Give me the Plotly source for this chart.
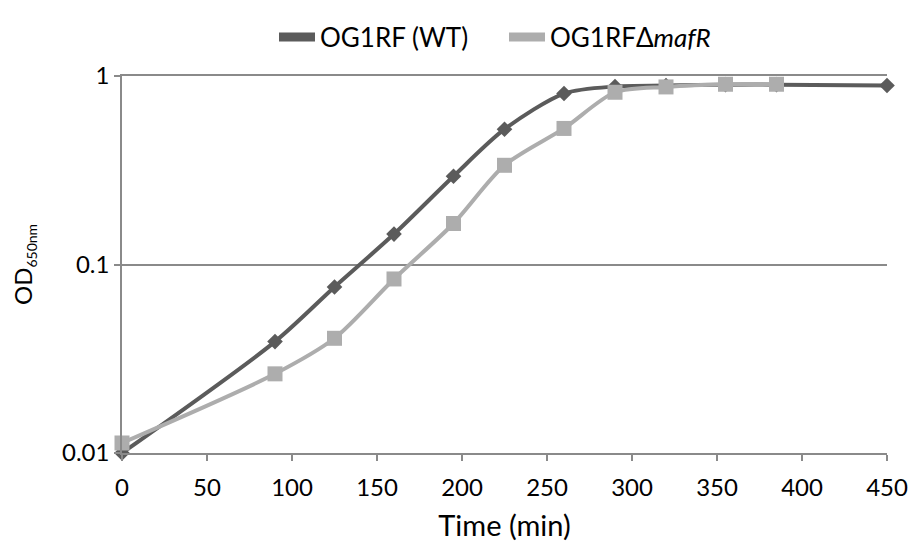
import plotly.graph_objects as go

time_wt = [0, 90, 125, 160, 195, 225, 260, 290, 320, 355, 385, 450]
od_wt = [0.010, 0.039, 0.076, 0.145, 0.294, 0.522, 0.807, 0.88, 0.89, 0.90, 0.90, 0.89]

time_mut = [0, 90, 125, 160, 195, 225, 260, 290, 320, 355, 385]
od_mut = [0.0113, 0.0263, 0.0406, 0.0838, 0.165, 0.336, 0.527, 0.82, 0.875, 0.904, 0.904]

x_ticks = [0, 50, 100, 150, 200, 250, 300, 350, 400, 450]
y_ticks = [0.01, 0.1, 1]
y_tick_labels = ["0.01", "0.1", "1"]

name_wt = "OG1RF (WT)"
name_mut = "OG1RFΔ<i>mafR</i>"

c_wt = "#5b5b5b"
c_mut = "#adadad"
axis_c = "#8a8a8a"
FONT = "Lato"

W, H = 911, 534  # page body has an 8px margin

fig = go.Figure()
fig.add_trace(go.Scatter(
    x=time_wt, y=od_wt, mode="lines+markers", showlegend=False,
    line=dict(color=c_wt, width=4, shape="spline", smoothing=0.8),
    marker=dict(symbol="diamond", size=12, color=c_wt),
    cliponaxis=False,
))
fig.add_trace(go.Scatter(
    x=time_mut, y=od_mut, mode="lines+markers", showlegend=False,
    line=dict(color=c_mut, width=4, shape="spline", smoothing=0.8),
    marker=dict(symbol="square", size=15, color=c_mut),
    cliponaxis=False,
))
# legend entries (rectangular swatches like the original)
fig.add_trace(go.Scatter(x=[None], y=[None], mode="lines", name=name_wt,
                         line=dict(color=c_wt, width=9)))
fig.add_trace(go.Scatter(x=[None], y=[None], mode="lines", name=name_mut,
                         line=dict(color=c_mut, width=9)))

fig.update_layout(
    width=W, height=H,
    margin=dict(l=114, r=32, t=68, b=89, autoexpand=False),
    plot_bgcolor="white", paper_bgcolor="white",
    font=dict(family=FONT, size=24, color="black"),
    showlegend=True,
    legend=dict(orientation="h", xref="container", x=266 / W, xanchor="left",
                yref="container", y=1 - 29 / H, yanchor="middle",
                font=dict(size=26, family=FONT), itemwidth=36,
                entrywidth=179, entrywidthmode="pixels"),
    xaxis=dict(
        range=[0, 450], tickvals=x_ticks, showgrid=False, zeroline=False,
        showline=True, linecolor=axis_c, linewidth=1.5, mirror=True,
        ticks="outside", ticklen=6, tickcolor=axis_c, tickwidth=1.5,
        ticklabelstandoff=6,
        tickfont=dict(size=24, family=FONT),
        title=dict(text="Time (min)", font=dict(size=29, family=FONT), standoff=23),
    ),
    yaxis=dict(
        type="log", range=[-2, 0], tickvals=y_ticks, ticktext=y_tick_labels,
        showgrid=True, gridcolor=axis_c, gridwidth=1.5, zeroline=False,
        showline=True, linecolor=axis_c, linewidth=1.5,
        ticks="outside", ticklen=6, tickcolor=axis_c, tickwidth=1.5,
        tickfont=dict(size=24, family=FONT),
        title=dict(text="OD<sub><span style='font-size:14px'>650nm</span></sub>",
                   font=dict(size=24, family=FONT), standoff=24),
    ),
)

fig.write_html("out.html")
